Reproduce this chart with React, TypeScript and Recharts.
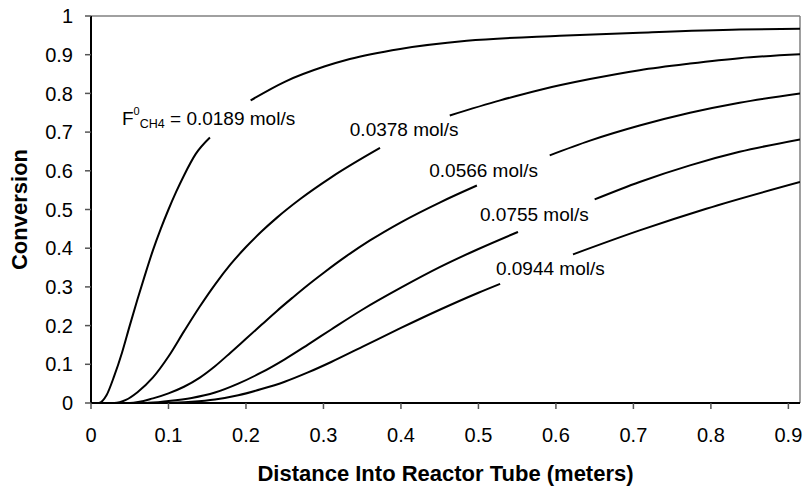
import React from 'react';
import { LineChart, Line, XAxis, YAxis, ReferenceLine, ReferenceDot } from 'recharts';

type Pt = { x: number; y: number | null };

// Feed rates of CH4 (mol/s), one per curve
const flowRates = ['0.0189', '0.0378', '0.0566', '0.0755', '0.0944'];

const xTicks = [0, 0.1, 0.2, 0.3, 0.4, 0.5, 0.6, 0.7, 0.8, 0.9];
const yTicks = [0, 0.1, 0.2, 0.3, 0.4, 0.5, 0.6, 0.7, 0.8, 0.9, 1];

const curve0189: Pt[] = [
  { x: 0, y: 0 }, { x: 0.01, y: 0 }, { x: 0.02, y: 0.02 }, { x: 0.03, y: 0.07 },
  { x: 0.04, y: 0.13 }, { x: 0.05, y: 0.2 }, { x: 0.06, y: 0.268 }, { x: 0.07, y: 0.333 },
  { x: 0.08, y: 0.395 }, { x: 0.09, y: 0.45 }, { x: 0.1, y: 0.5 }, { x: 0.11, y: 0.546 },
  { x: 0.12, y: 0.588 }, { x: 0.135, y: 0.643 }, { x: 0.1535, y: 0.686 },
  { x: 0.18, y: null },
  { x: 0.206, y: 0.782 }, { x: 0.25, y: 0.83 }, { x: 0.302, y: 0.87 }, { x: 0.334, y: 0.889 },
  { x: 0.399, y: 0.915 }, { x: 0.485, y: 0.936 }, { x: 0.605, y: 0.949 }, { x: 0.708, y: 0.957 },
  { x: 0.837, y: 0.965 }, { x: 0.915, y: 0.967 },
];

const curve0378: Pt[] = [
  { x: 0, y: 0 }, { x: 0.03, y: 0 }, { x: 0.045, y: 0.008 }, { x: 0.06, y: 0.028 },
  { x: 0.08, y: 0.066 }, { x: 0.1, y: 0.12 }, { x: 0.12, y: 0.185 }, { x: 0.14, y: 0.248 },
  { x: 0.16, y: 0.306 }, { x: 0.18, y: 0.358 }, { x: 0.2, y: 0.403 }, { x: 0.22, y: 0.443 },
  { x: 0.24, y: 0.479 }, { x: 0.27, y: 0.527 }, { x: 0.31, y: 0.583 }, { x: 0.373, y: 0.659 },
  { x: 0.42, y: null },
  { x: 0.463, y: 0.743 }, { x: 0.528, y: 0.782 }, { x: 0.579, y: 0.809 }, { x: 0.644, y: 0.837 },
  { x: 0.708, y: 0.86 }, { x: 0.773, y: 0.877 }, { x: 0.837, y: 0.891 }, { x: 0.915, y: 0.901 },
];

const curve0566: Pt[] = [
  { x: 0, y: 0 }, { x: 0.05, y: 0 }, { x: 0.08, y: 0.012 }, { x: 0.1, y: 0.025 },
  { x: 0.12, y: 0.042 }, { x: 0.14, y: 0.065 }, { x: 0.16, y: 0.095 }, { x: 0.18, y: 0.13 },
  { x: 0.2, y: 0.166 }, { x: 0.22, y: 0.202 }, { x: 0.24, y: 0.238 }, { x: 0.26, y: 0.272 },
  { x: 0.28, y: 0.305 }, { x: 0.3, y: 0.336 }, { x: 0.33, y: 0.38 }, { x: 0.36, y: 0.42 },
  { x: 0.4, y: 0.467 }, { x: 0.45, y: 0.518 }, { x: 0.498, y: 0.562 },
  { x: 0.545, y: null },
  { x: 0.592, y: 0.64 }, { x: 0.644, y: 0.678 }, { x: 0.708, y: 0.717 }, { x: 0.773, y: 0.75 },
  { x: 0.837, y: 0.776 }, { x: 0.915, y: 0.8 },
];

const curve0755: Pt[] = [
  { x: 0, y: 0 }, { x: 0.07, y: 0 }, { x: 0.1, y: 0.005 }, { x: 0.13, y: 0.013 },
  { x: 0.16, y: 0.027 }, { x: 0.19, y: 0.05 }, { x: 0.22, y: 0.079 }, { x: 0.25, y: 0.113 },
  { x: 0.28, y: 0.151 }, { x: 0.31, y: 0.19 }, { x: 0.35, y: 0.241 }, { x: 0.4, y: 0.298 },
  { x: 0.45, y: 0.351 }, { x: 0.5, y: 0.398 }, { x: 0.551, y: 0.442 },
  { x: 0.6, y: null },
  { x: 0.65, y: 0.526 }, { x: 0.708, y: 0.571 }, { x: 0.773, y: 0.614 }, { x: 0.837, y: 0.649 },
  { x: 0.915, y: 0.681 },
];

const curve0944: Pt[] = [
  { x: 0, y: 0 }, { x: 0.1, y: 0 }, { x: 0.13, y: 0.003 }, { x: 0.16, y: 0.009 },
  { x: 0.19, y: 0.02 }, { x: 0.22, y: 0.036 }, { x: 0.25, y: 0.055 }, { x: 0.28, y: 0.079 },
  { x: 0.31, y: 0.106 }, { x: 0.35, y: 0.145 }, { x: 0.4, y: 0.194 }, { x: 0.45, y: 0.241 },
  { x: 0.5, y: 0.285 }, { x: 0.528, y: 0.308 },
  { x: 0.575, y: null },
  { x: 0.622, y: 0.384 }, { x: 0.708, y: 0.446 }, { x: 0.794, y: 0.502 }, { x: 0.915, y: 0.571 },
];

const curves = [curve0189, curve0378, curve0566, curve0755, curve0944];

// Annotation anchors (data coordinates: start of text, baseline)
const labelX = [0.04, 0.334, 0.4365, 0.502, 0.5226];
const labelY = [0.7176, 0.69, 0.584, 0.47, 0.33];

const X_MAX = 0.915;
const FONT = '"Liberation Sans", Arial, Helvetica, sans-serif';

const renderLabel = (i: number) => (props: any) => {
  const { cx, cy } = props;
  if (i === 0) {
    return (
      <text x={cx} y={cy} fontSize={19} fontFamily={FONT} fill="#000">
        <tspan>F</tspan>
        <tspan fontSize={11} dy={-10}>0</tspan>
        <tspan fontSize={12.5} dy={13}>CH4</tspan>
        <tspan fontSize={19} dy={-3}>{'\u00A0=\u00A0' + flowRates[0] + ' mol/s'}</tspan>
      </text>
    );
  }
  return (
    <text x={cx} y={cy} fontSize={19} fontFamily={FONT} fill="#000">
      {flowRates[i] + ' mol/s'}
    </text>
  );
};

const YTitle = (props: any) => {
  const vb = props.viewBox || {};
  const cx = 27;
  const cy = (vb.y ?? 16) + (vb.height ?? 387) / 2;
  return (
    <text
      x={cx}
      y={cy}
      transform={`rotate(-90, ${cx}, ${cy})`}
      textAnchor="middle"
      fontSize={22}
      fontWeight="bold"
      fontFamily={FONT}
      fill="#000"
    >
      Conversion
    </text>
  );
};

const XTitle = (props: any) => {
  const vb = props.viewBox || {};
  const cx = (vb.x ?? 91) + (vb.width ?? 709) / 2;
  return (
    <text x={cx} y={481} textAnchor="middle" fontSize={22} fontWeight="bold" fontFamily={FONT} fill="#000">
      Distance Into Reactor Tube (meters)
    </text>
  );
};

export default function App() {
  return (
    <div style={{ position: 'absolute', left: 0, top: 0, background: '#fff' }}>
      <LineChart width={806} height={489} margin={{ top: 16, right: 6, left: 0, bottom: 0 }}>
        <XAxis
          type="number"
          dataKey="x"
          domain={[0, X_MAX]}
          ticks={xTicks}
          allowDataOverflow
          height={86}
          tickSize={6}
          tickMargin={19}
          axisLine={{ stroke: '#000', strokeWidth: 2 }}
          tickLine={{ stroke: '#555', strokeWidth: 1.5 }}
          tick={{ fill: '#000', fontSize: 20, fontFamily: FONT }}
          label={<XTitle />}
        />
        <YAxis
          type="number"
          dataKey="y"
          domain={[0, 1]}
          ticks={yTicks}
          width={91}
          tickSize={6}
          tickMargin={12}
          axisLine={{ stroke: '#000', strokeWidth: 2 }}
          tickLine={{ stroke: '#555', strokeWidth: 1.5 }}
          tick={{ fill: '#000', fontSize: 20, fontFamily: FONT }}
          label={<YTitle />}
        />
        <ReferenceLine y={1} stroke="#808080" strokeWidth={1.5} />
        <ReferenceLine x={X_MAX} stroke="#808080" strokeWidth={1.5} />
        {curves.map((c, i) => (
          <Line
            key={flowRates[i]}
            data={c}
            dataKey="y"
            type="monotone"
            stroke="#000"
            strokeWidth={2}
            dot={false}
            activeDot={false}
            connectNulls={false}
            isAnimationActive={false}
          />
        ))}
        {flowRates.map((f, i) => (
          <ReferenceDot
            key={'lbl' + f}
            x={labelX[i]}
            y={labelY[i]}
            r={0}
            shape={renderLabel(i)}
          />
        ))}
      </LineChart>
    </div>
  );
}
